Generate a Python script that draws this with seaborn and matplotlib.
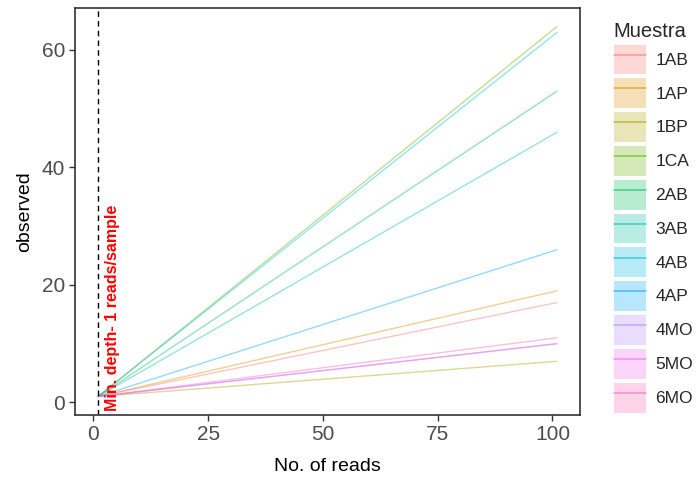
import matplotlib
matplotlib.use("Agg")
import matplotlib.pyplot as plt
import pandas as pd
import seaborn as sns
from matplotlib.patches import Patch
from matplotlib.lines import Line2D

# Rarefaction curves per sample: observed richness vs. number of reads
samples = ["1AB", "1AP", "1BP", "1CA", "2AB", "3AB", "4AB", "4AP", "4MO", "5MO", "6MO"]
start_reads = 1
end_reads = 101
start_observed = 1
end_observed = [17, 19, 7, 64, 53, 46, 63, 26, 10, 10, 11]
min_depth = 1
colors = ["#F8766D", "#DB8E00", "#AEA200", "#64B200", "#00BD5C", "#00C1A7",
          "#00BADE", "#00A6FF", "#B385FF", "#EF67EB", "#FF63B6"]
x_ticks = [0, 25, 50, 75, 100]
y_ticks = [0, 20, 40, 60]

rows = []
for name, obs in zip(samples, end_observed):
    rows.append({"Muestra": name, "reads": start_reads, "observed": start_observed})
    rows.append({"Muestra": name, "reads": end_reads, "observed": obs})
df = pd.DataFrame(rows)
palette = dict(zip(samples, colors))

sns.set_theme(style="white")
plt.rcParams["font.family"] = ["Liberation Sans", "DejaVu Sans"]

W, H = 698, 487
fig = plt.figure(figsize=(W / 100, H / 100), dpi=100)
ax = fig.add_axes([75 / W, 72 / H, 505 / W, 407 / H])

sns.lineplot(data=df, x="reads", y="observed", hue="Muestra", hue_order=samples,
             palette=palette, alpha=0.42, linewidth=1.0, estimator=None,
             legend=False, ax=ax)

ax.axvline(min_depth, color="black", linestyle=(0, (4, 3)), linewidth=1.0)
ax.annotate("Min. depth- 1 reads/sample", xy=(min_depth, -1.4), xytext=(5, 0),
            textcoords="offset points", rotation=90, ha="left", va="bottom",
            color="red", fontsize=11.5, fontweight="bold")

ax.set_xlim(-4, 106)
ax.set_ylim(-2.15, 67.15)
ax.set_xticks(x_ticks)
ax.set_yticks(y_ticks)
ax.tick_params(bottom=True, left=True, direction="out", length=4, width=1,
               color="#333333", labelcolor="#4D4D4D", labelsize=15, pad=3)
for sp in ax.spines.values():
    sp.set_visible(True)
    sp.set_color("#333333")
    sp.set_linewidth(1.2)
ax.grid(False)
ax.set_xlabel("No. of reads", fontsize=14, color="black", labelpad=10)
ax.set_ylabel("observed", fontsize=14, color="black", labelpad=6)

handles = [(Patch(facecolor=c, alpha=0.28, edgecolor="none"),
            Line2D([], [], color=c, alpha=0.6, linewidth=1.2)) for c in colors]
leg = fig.legend(handles, samples, loc="upper left",
                 bbox_to_anchor=(605 / W, 1 - 13 / H), frameon=False,
                 title="Muestra", title_fontsize=14.5, fontsize=12.5,
                 handlelength=1.84, handleheight=2.28, labelspacing=0.22,
                 handletextpad=0.55, borderpad=0, alignment="left")

fig.savefig("out.png", dpi=100)
